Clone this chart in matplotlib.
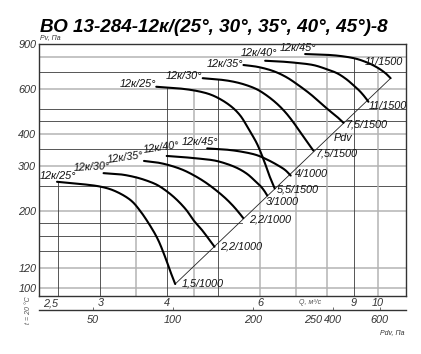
import numpy as np
import matplotlib
matplotlib.use("Agg")
import matplotlib.pyplot as plt
from matplotlib.ticker import FixedLocator, FixedFormatter, NullLocator

plt.rcParams['font.family'] = ['Liberation Sans', 'DejaVu Sans']

TITLE = "ВО 13-284-12к/(25°, 30°, 35°, 40°, 45°)-8"

# ---- fan curves, 1000 rpm (Q in m3/s, Pv in Pa) ----
q_1000_25 = [2.487, 2.751, 3.000, 3.201, 3.416, 3.567, 3.725, 3.856, 3.975, 4.062, 4.151]
p_1000_25 = [260, 255, 249, 239, 221, 200, 175, 154, 132, 116.5, 103.7]
q_1000_30 = [3.043, 3.271, 3.466, 3.645, 3.835, 4.010, 4.182, 4.354, 4.494, 4.646, 4.796, 4.922]
p_1000_30 = [281, 278, 272, 264, 253, 238, 221, 202, 184, 170, 156, 145]
q_1000_35 = [3.626, 3.841, 4.062, 4.298, 4.526, 4.737, 4.948, 5.156, 5.338, 5.478, 5.574]
p_1000_35 = [313.6, 309.2, 301, 289, 273.8, 258.3, 241.5, 224.7, 209.1, 196.4, 187.7]
q_1000_40 = [4.001, 4.261, 4.586, 4.916, 5.201, 5.454, 5.671, 5.846, 6.000, 6.105, 6.185]
p_1000_40 = [328, 325, 320.5, 315, 305, 293, 279, 264, 251, 240, 230]
q_1000_45 = [4.769, 5.156, 5.526, 5.897, 6.212, 6.487, 6.686, 6.848]
p_1000_45 = [351, 347.5, 341, 331, 316, 301, 289, 275]

# ---- fan curves, 1500 rpm ----
q_1500_25 = [3.824, 4.224, 4.606, 4.916, 5.246, 5.502, 5.721, 5.922, 6.105, 6.238, 6.389]
p_1500_25 = [611, 602, 586, 562, 519, 472, 414, 365, 313, 276, 245]
q_1500_30 = [4.677, 5.024, 5.315, 5.598, 5.897, 6.158, 6.431, 6.686, 6.922, 7.135, 7.354, 7.558]
p_1500_30 = [660, 652, 641, 624, 599, 567, 528, 487, 445, 407, 372, 344]
q_1500_35 = [5.581, 5.948, 6.347, 6.715, 7.073, 7.451, 7.781, 8.090, 8.376, 8.608]
p_1500_35 = [743, 730, 704, 667, 621, 573, 530, 494, 466, 442]
q_1500_40 = [6.131, 6.543, 7.043, 7.548, 7.985, 8.376, 8.709, 8.977, 9.214, 9.416, 9.593]
p_1500_40 = [772, 767, 757, 743, 717, 690, 655, 621, 591, 562, 534]
q_1500_45 = [7.291, 7.951, 8.486, 9.055, 9.539, 9.962, 10.313, 10.561]
p_1500_45 = [820, 815, 806, 788, 760, 727, 692, 660]

blade_labels = ["12к/25°", "12к/30°", "12к/35°", "12к/40°", "12к/45°"]
motor_1000 = ["1,5/1000", "2,2/1000", "2,2/1000", "3/1000", "4/1000"]
motor_1500 = ["5,5/1500", "7,5/1500", "7,5/1500", "11/1500", "11/1500"]

# dynamic-pressure line (Pv = Pdv)
pdv_line_q = [4.151, 10.561]
pdv_line_p = [103.7, 659.5]
PDV_COEF = 5.92  # Pdv = PDV_COEF * Q^2

q_ticks = [2.5, 3, 4, 6, 9, 10]
q_tick_labels = ["2,5", "3", "4", "6", "9", "10"]
p_ticks = [100, 120, 200, 300, 400, 600, 900]
p_tick_labels = ["100", "120", "200", "300", "400", "600", "900"]
pdv_ticks = [50, 100, 200, 400, 600]
pdv_tick_labels = ["50", "100", "200", "400", "600"]

grid_p_light = [100, 120, 200, 300, 400, 600, 800]
grid_p_dark = [250, 350, 450, 500, 700]
grid_p_short = [140, 160, 180]
grid_p_short_end = [5.0, 5.0, 5.54]
grid_q_light = [3.5, 4.5, 6, 7, 8, 10]
grid_q_dark = [2.5, 3, 4, 5, 9]

Q_LIM = (2.30, 11.29)
P_LIM = (93.1, 900)

# ---------------- layout / style ----------------
W, H = 421, 354
fig = plt.figure(figsize=(W / 100, H / 100), dpi=100)
ax_l, ax_r, ax_t, ax_b = 39, 406, 43.7, 296
ax = fig.add_axes([ax_l / W, 1 - ax_b / H, (ax_r - ax_l) / W, (ax_b - ax_t) / H])
ax.set_xscale('log')
ax.set_yscale('log')
ax.set_xlim(*Q_LIM)
ax.set_ylim(*P_LIM)

curves_1000 = [(q_1000_25, p_1000_25), (q_1000_30, p_1000_30), (q_1000_35, p_1000_35),
               (q_1000_40, p_1000_40), (q_1000_45, p_1000_45)]
curves_1500 = [(q_1500_25, p_1500_25), (q_1500_30, p_1500_30), (q_1500_35, p_1500_35),
               (q_1500_40, p_1500_40), (q_1500_45, p_1500_45)]
all_curves = curves_1000 + curves_1500


def smooth(q, p, n=24):
    pts = np.column_stack([np.log10(q), np.log10(p)])
    P = np.vstack([2 * pts[0] - pts[1], pts, 2 * pts[-1] - pts[-2]])
    out = []
    t = np.linspace(0, 1, n, endpoint=False)[:, None]
    for i in range(1, len(P) - 2):
        p0, p1, p2, p3 = P[i - 1], P[i], P[i + 1], P[i + 2]
        seg = 0.5 * (2 * p1 + (-p0 + p2) * t + (2 * p0 - 5 * p1 + 4 * p2 - p3) * t ** 2
                     + (-p0 + 3 * p1 - 3 * p2 + p3) * t ** 3)
        out.append(seg)
    out.append(pts[-1][None, :])
    s = np.vstack(out)
    return 10 ** s[:, 0], 10 ** s[:, 1]


def top_envelope(qv):
    best = None
    for q, p in all_curves:
        if q[0] <= qv <= q[-1]:
            v = 10 ** np.interp(np.log10(qv), np.log10(q), np.log10(p))
            best = v if best is None else max(best, v)
    return best if best is not None else P_LIM[1]


LIGHT = '#b4b4b4'
DARK = '#3a3a3a'
# horizontal grid
for pv in grid_p_light:
    ax.plot(Q_LIM, [pv, pv], color=LIGHT, lw=1.1, zorder=1)
for pv in grid_p_dark:
    ax.plot(Q_LIM, [pv, pv], color=DARK, lw=0.6, zorder=1)
for pv, qe in zip(grid_p_short, grid_p_short_end):
    ax.plot([Q_LIM[0], qe], [pv, pv], color=DARK, lw=0.6, zorder=1)
# vertical grid (from bottom up to the curve envelope)
for qv in grid_q_light:
    ax.plot([qv, qv], [P_LIM[0], top_envelope(qv)], color=LIGHT, lw=1.1, zorder=1)
for qv in grid_q_dark:
    ax.plot([qv, qv], [P_LIM[0], top_envelope(qv)], color=DARK, lw=0.6, zorder=1)

# diagonal Pdv line
ax.plot(pdv_line_q, pdv_line_p, color='#222222', lw=0.6, zorder=2)

# curves
for q, p in all_curves:
    xs, ys = smooth(q, p)
    ax.plot(xs, ys, color='black', lw=1.5, solid_capstyle='round', zorder=3)

PX = 0.72  # points per pixel
lab_kw = dict(fontsize=7.8, style='italic', color='#111111', zorder=4)
# blade labels near curve starts: (dx, dy, ha) in pixels
blade_off_1000 = [(1, -5.5, 'center'), (7, -6.5, 'right'), (0, -3.5, 'right'), (-5, -8, 'center'), (-7, -6, 'center')]
blade_off_1500 = [(0, -2.5, 'right'), (0, -2.5, 'right'), (0, -1.5, 'right'), (-6, -7.5, 'center'), (-7.5, -6, 'center')]
blade_rot_1000 = [0, 3, 8, 8, 0]
for (q, p), name, (dx, dy, ha), rot in zip(curves_1000, blade_labels, blade_off_1000, blade_rot_1000):
    ax.annotate(name, (q[0], p[0]), xytext=(dx * PX, -dy * PX), textcoords='offset points',
                ha=ha, va='center', rotation=rot, **lab_kw)
for (q, p), name, (dx, dy, ha) in zip(curves_1500, blade_labels, blade_off_1500):
    ax.annotate(name, (q[0], p[0]), xytext=(dx * PX, -dy * PX), textcoords='offset points',
                ha=ha, va='center', **lab_kw)

# motor labels near curve ends
mot_off_1000 = [(6.5, -1), (5.5, -0.5), (5.5, 1), (-1, 6.5), (4.5, -2)]
mot_off_1500 = [(2, 1), (2, 3), (2, 2), (0, 4), (-25.5, -16.5)]
for (q, p), name, (dx, dy) in zip(curves_1000, motor_1000, mot_off_1000):
    ax.annotate(name, (q[-1], p[-1]), xytext=(dx * PX, -dy * PX), textcoords='offset points',
                ha='left', va='center', **lab_kw)
for (q, p), name, (dx, dy) in zip(curves_1500, motor_1500, mot_off_1500):
    ax.annotate(name, (q[-1], p[-1]), xytext=(dx * PX, -dy * PX), textcoords='offset points',
                ha='left', va='center', **lab_kw)
ax.annotate("Pdv", (pdv_line_q[1], pdv_line_p[1]), xytext=(-48 * PX, -60 * PX),
            textcoords='offset points', ha='center', va='center', **lab_kw)

# axes ticks
ax.xaxis.set_major_locator(FixedLocator(q_ticks))
ax.xaxis.set_major_formatter(FixedFormatter(q_tick_labels))
ax.xaxis.set_minor_locator(NullLocator())
ax.yaxis.set_major_locator(FixedLocator(p_ticks))
ax.yaxis.set_major_formatter(FixedFormatter(p_tick_labels))
ax.yaxis.set_minor_locator(NullLocator())
ax.tick_params(axis='both', which='both', length=0)
ax.tick_params(axis='x', pad=1.5)
ax.tick_params(axis='y', pad=2)
for lbl in ax.get_xticklabels() + ax.get_yticklabels():
    lbl.set_fontsize(7.8)
    lbl.set_fontstyle('italic')
    lbl.set_color('#333333')
ax.get_xticklabels()[0].set_horizontalalignment('right')
for s in ax.spines.values():
    s.set_linewidth(1.0)
    s.set_color('#333333')
    s.set_zorder(5)

# secondary (dynamic pressure) axis
sec = ax.secondary_xaxis(-14 / (ax_b - ax_t),
                         functions=(lambda q: PDV_COEF * np.asarray(q) ** 2,
                                    lambda d: np.sqrt(np.asarray(d) / PDV_COEF)))
sec.xaxis.set_major_locator(FixedLocator(pdv_ticks))
sec.xaxis.set_major_formatter(FixedFormatter(pdv_tick_labels))
sec.xaxis.set_minor_locator(NullLocator())
sec.tick_params(axis='x', direction='in', length=2.5, width=0.6, color='#555555', pad=3.5,
                labelsize=7.8, labelcolor='#333333')
for lbl in sec.get_xticklabels():
    lbl.set_fontstyle('italic')
sec.spines['bottom'].set_linewidth(1.0)
sec.spines['bottom'].set_color('#333333')

# extra texts
fig.text(214 / W, 1 - 31.5 / H, TITLE, ha='center', va='baseline', fontsize=13.6,
         fontweight='bold', style='italic', color='black')
fig.text(40 / W, 1 - 38 / H, "Pv, Па", ha='left', va='center', fontsize=5, style='italic', color='#333333')
fig.text(310 / W, 1 - 302 / H, "Q, м³/с", ha='center', va='center', fontsize=5, style='italic', color='#555555')
fig.text(313 / W, 1 - 320 / H, "250", ha='center', va='center', fontsize=7.8, style='italic', color='#333333')
fig.text(392 / W, 1 - 333 / H, "Pdv, Па", ha='center', va='center', fontsize=5, style='italic', color='#333333')
fig.text(28 / W, 1 - 310 / H, "t = 20 °C", ha='center', va='center', fontsize=5, style='italic',
         color='#555555', rotation=90)

fig.savefig("out.png", dpi=100)
